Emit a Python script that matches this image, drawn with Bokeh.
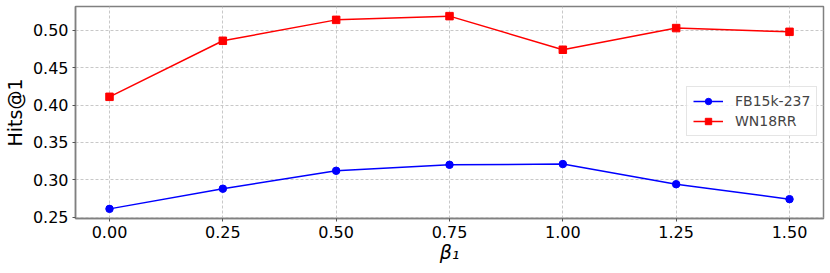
from bokeh.plotting import figure
from bokeh.models import FixedTicker, NumeralTickFormatter, Legend, LegendItem, Range1d
from bokeh.embed import file_html
from bokeh.resources import INLINE

beta = [0.00, 0.25, 0.50, 0.75, 1.00, 1.25, 1.50]
fb15k = [0.261, 0.288, 0.312, 0.320, 0.321, 0.294, 0.274]
wn18rr = [0.411, 0.486, 0.514, 0.519, 0.474, 0.503, 0.498]
x_ticks = [0.00, 0.25, 0.50, 0.75, 1.00, 1.25, 1.50]
y_ticks = [0.25, 0.30, 0.35, 0.40, 0.45, 0.50]
x_title = "β₁"
y_title = "Hits@1"

FONT = "DejaVu Sans"

p = figure(width=830, height=273, output_backend="svg", toolbar_location=None,
           x_range=Range1d(-0.075, 1.575), y_range=Range1d(0.2481, 0.5319),
           min_border_left=73, min_border_right=7, min_border_top=6, min_border_bottom=55)

l1 = p.line(beta, fb15k, line_color="#0000ff", line_width=1.5)
s1 = p.scatter(beta, fb15k, marker="circle", size=7.5, fill_color="#0000ff", line_color="#0000ff")
l2 = p.line(beta, wn18rr, line_color="#ff0000", line_width=1.5)
s2 = p.scatter(beta, wn18rr, marker="square", size=7.5, fill_color="#ff0000", line_color="#ff0000")

legend = Legend(items=[LegendItem(label="FB15k-237", renderers=[l1, s1]),
                       LegendItem(label="WN18RR", renderers=[l2, s2])],
                location=(611, 82), margin=0, padding=6, spacing=4,
                glyph_width=30, glyph_height=16, label_height=16, label_standoff=12,
                label_text_font=FONT, label_text_font_size="14px",
                border_line_color="#cccccc", background_fill_alpha=0.8)
p.add_layout(legend, "center")

p.xaxis.ticker = FixedTicker(ticks=x_ticks)
p.yaxis.ticker = FixedTicker(ticks=y_ticks)
p.xaxis.formatter = NumeralTickFormatter(format="0.00")
p.yaxis.formatter = NumeralTickFormatter(format="0.00")

for ax in (p.xaxis[0], p.yaxis[0]):
    ax.major_label_text_font = FONT
    ax.major_label_text_font_size = "16px"
    ax.major_label_text_color = "black"
    ax.axis_label_text_font = FONT
    ax.axis_label_text_font_size = "19px"
    ax.axis_label_text_color = "black"
    ax.axis_label_text_font_style = "normal"
    ax.minor_tick_line_color = None
    ax.major_tick_in = 0
    ax.major_tick_out = 3
    ax.major_tick_line_color = "#555555"
    ax.axis_line_color = "#808080"
    ax.axis_line_width = 1.5

p.xaxis.axis_label = x_title
p.xaxis.axis_label_text_font_style = "italic"
p.yaxis.axis_label = y_title
p.xaxis.major_label_standoff = 4
p.xaxis.axis_label_standoff = 0
p.yaxis.major_label_standoff = 4
p.yaxis.axis_label_standoff = 4

p.outline_line_color = "#808080"
p.outline_line_width = 1.5
p.grid.grid_line_color = "#c8c8c8"
p.grid.grid_line_dash = "3 2"
p.grid.grid_line_width = 1

open("out.html", "w").write(file_html(p, INLINE))
